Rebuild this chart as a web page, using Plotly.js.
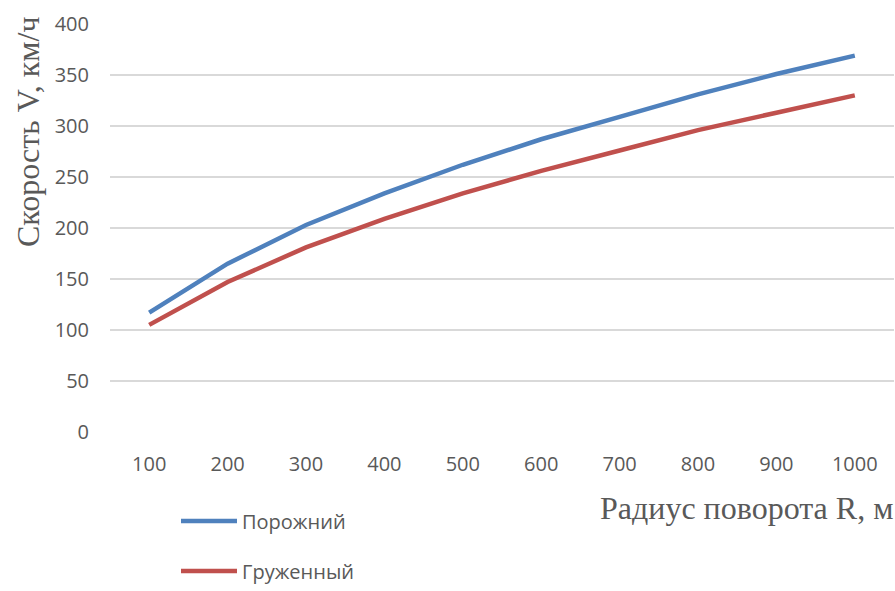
<!DOCTYPE html>
<html>
<head>
<meta charset="utf-8">
<script src="https://cdn.plot.ly/plotly-3.0.1.min.js"></script>
<style>html,body{margin:0;padding:0;background:#fff;}#chart{width:895px;height:591px;}</style>
</head>
<body>
<div id="chart"></div>
<script>
const radii = ['100','200','300','400','500','600','700','800','900','1000'];
const emptyV = [117, 165, 203, 234, 262, 287, 309, 331, 351, 369];
const loadedV = [105, 147, 181, 209, 234, 256, 276, 296, 313, 330];
const seriesNames = ['Порожний', 'Груженный'];
const yTitle = 'Скорость V, км/ч';
const xTitle = 'Радиус поворота R, м';

const W = 895, H = 591;
const L = 110, R = 1, T = 24, B = 159;
const pw = W - L - R, ph = H - T - B;
const px = x => (x - L) / pw;
const py = y => (H - B - y) / ph;

const traces = [
  {x: radii, y: emptyV, name: seriesNames[0], type: 'scatter', mode: 'lines',
   line: {color: '#4f81bd', width: 4.5}, legend: 'legend'},
  {x: radii, y: loadedV, name: seriesNames[1], type: 'scatter', mode: 'lines',
   line: {color: '#c0504d', width: 4.5}, legend: 'legend2'}
];

const legendStyle = {orientation: 'v', xanchor: 'left', yanchor: 'middle', itemwidth: 56,
  font: {size: 20, color: '#595959'}, bgcolor: 'rgba(0,0,0,0)', borderwidth: 0};

const layout = {
  width: W, height: H,
  margin: {l: L, r: R, t: T, b: B, pad: 0},
  paper_bgcolor: '#fff', plot_bgcolor: '#fff',
  font: {family: 'Open Sans, sans-serif', color: '#595959', size: 20},
  xaxis: {type: 'category', range: [-0.5, 9.5], showgrid: false, zeroline: false, showline: false,
          automargin: false, ticks: '', tickfont: {size: 20, color: '#595959'}, ticklabelstandoff: 18},
  yaxis: {range: [0, 400], dtick: 50, showgrid: true, gridcolor: '#d9d9d9', gridwidth: 1.3,
          automargin: false, zeroline: false, showline: false, ticks: '',
          tickfont: {size: 20, color: '#595959'}, ticklabelstandoff: 20, fixedrange: true},
  showlegend: true,
  legend: Object.assign({x: px(176), y: py(521)}, legendStyle),
  legend2: Object.assign({x: px(176), y: py(571)}, legendStyle),
  annotations: [
    {text: yTitle, xref: 'paper', yref: 'paper', x: px(28), y: py(132), textangle: -90,
     xanchor: 'center', yanchor: 'middle', showarrow: false,
     font: {family: 'Liberation Serif, serif', size: 32, color: '#595959'}},
    {text: xTitle, xref: 'paper', yref: 'paper', x: px(598), y: py(508),
     xanchor: 'left', yanchor: 'middle', showarrow: false,
     font: {family: 'Liberation Serif, serif', size: 32, color: '#595959'}}
  ]
};

Plotly.newPlot('chart', traces, layout, {displayModeBar: false, staticPlot: true});
</script>
</body>
</html>
